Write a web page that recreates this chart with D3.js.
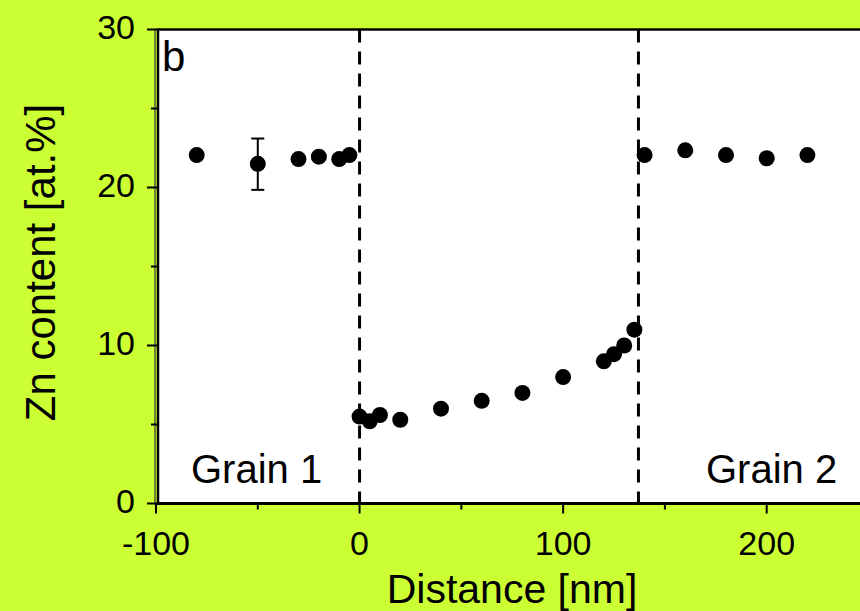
<!DOCTYPE html>
<html>
<head>
<meta charset="utf-8">
<script src="https://cdn.jsdelivr.net/npm/d3@7"></script>
<style>
  html, body { margin: 0; padding: 0; background: #ccff33; }
  svg { display: block; }
  text { font-family: "Liberation Sans", Arial, sans-serif; fill: #000; }
</style>
</head>
<body>
<svg id="chart" width="860" height="611"></svg>
<script>
// ---- data ----
const distance = [-80, -50, -30, -20, -10, -5, 0, 5, 10, 20, 40, 60, 80, 100, 120, 125, 130, 135, 140, 160, 180, 200, 220];
const znContent = [22.05, 21.5, 21.8, 21.95, 21.8, 22.05, 5.5, 5.2, 5.6, 5.3, 6.0, 6.5, 7.0, 8.0, 9.0, 9.45, 10.0, 11.0, 22.05, 22.35, 22.05, 21.85, 22.05];
const errorBars = [{ x: -50, y: 21.5, low: 19.85, high: 23.1 }];
const boundaries = [0, 137];
const xTicks = [-100, 0, 100, 200];
const xMinorTicks = [-50, 50, 150, 250];
const yTicks = [0, 10, 20, 30];
const yMinorTicks = [5, 15, 25];
const xTitle = "Distance [nm]";
const yTitle = "Zn content [at.%]";
const grainLabels = ["Grain 1", "Grain 2"];
const panelLabel = "b";

// ---- layout ----
const svg = d3.select("#chart");
const x = d3.scaleLinear().domain([-100, 200]).range([156, 766.7]);
const y = d3.scaleLinear().domain([0, 30]).range([503.5, 29.5]);
const pLeft = 158, pTop = 29.5, pBottom = 503.5, pRight = x(250);

// plot area
svg.append("rect").attr("x", pLeft).attr("y", pTop).attr("width", pRight - pLeft).attr("height", pBottom - pTop).attr("fill", "#fff");

// dashed grain boundaries
svg.selectAll("line.bound").data(boundaries).enter().append("line")
  .attr("class", "bound")
  .attr("x1", d => x(d)).attr("x2", d => x(d))
  .attr("y1", pTop).attr("y2", pBottom)
  .attr("stroke", "#000").attr("stroke-width", 3).attr("stroke-dasharray", "13,9");

// top border
svg.append("line").attr("x1", pLeft).attr("x2", pRight).attr("y1", pTop).attr("y2", pTop)
  .attr("stroke", "#000").attr("stroke-width", 2.5);

// y axis
const yAxis = svg.append("g");
yAxis.append("line").attr("x1", 155).attr("x2", 155).attr("y1", pTop - 1).attr("y2", pBottom + 1)
  .attr("stroke", "#333").attr("stroke-width", 1.2);
yAxis.append("line").attr("x1", pLeft).attr("x2", pLeft).attr("y1", pTop - 1).attr("y2", pBottom + 1.5)
  .attr("stroke", "#000").attr("stroke-width", 2.5);
yAxis.selectAll("line.ymaj").data(yTicks).enter().append("line")
  .attr("class", "ymaj")
  .attr("x1", 147).attr("x2", pLeft).attr("y1", d => y(d)).attr("y2", d => y(d))
  .attr("stroke", "#000").attr("stroke-width", 2);
yAxis.selectAll("line.ymin").data(yMinorTicks).enter().append("line")
  .attr("class", "ymin")
  .attr("x1", 151).attr("x2", pLeft).attr("y1", d => y(d)).attr("y2", d => y(d))
  .attr("stroke", "#000").attr("stroke-width", 2);
yAxis.selectAll("text").data(yTicks).enter().append("text")
  .attr("x", 135).attr("y", d => y(d) + 9)
  .attr("text-anchor", "end").attr("font-size", 34)
  .text(d => d);

// x axis
const xAxis = svg.append("g");
xAxis.append("line").attr("x1", pLeft - 1).attr("x2", 860).attr("y1", pBottom).attr("y2", pBottom)
  .attr("stroke", "#000").attr("stroke-width", 3);
xAxis.selectAll("line.xmaj").data(xTicks).enter().append("line")
  .attr("class", "xmaj")
  .attr("x1", d => x(d)).attr("x2", d => x(d)).attr("y1", pBottom).attr("y2", pBottom + 10)
  .attr("stroke", "#000").attr("stroke-width", 2);
xAxis.selectAll("line.xmin").data(xMinorTicks).enter().append("line")
  .attr("class", "xmin")
  .attr("x1", d => x(d)).attr("x2", d => x(d)).attr("y1", pBottom).attr("y2", pBottom + 6)
  .attr("stroke", "#000").attr("stroke-width", 2);
xAxis.selectAll("text").data(xTicks).enter().append("text")
  .attr("x", d => x(d)).attr("y", 555)
  .attr("text-anchor", "middle").attr("font-size", 34)
  .text(d => d);

// titles
svg.append("text").attr("x", 512).attr("y", 603).attr("text-anchor", "middle")
  .attr("font-size", 41).text(xTitle);
svg.append("text").attr("transform", "translate(55,262.5) rotate(-90)").attr("text-anchor", "middle")
  .attr("font-size", 42).text(yTitle);

// annotations
svg.append("text").attr("x", 162).attr("y", 71).attr("font-size", 42).text(panelLabel);
svg.append("text").attr("x", 191).attr("y", 483).attr("font-size", 40).text(grainLabels[0]);
svg.append("text").attr("x", 706).attr("y", 483).attr("font-size", 40).text(grainLabels[1]);

// error bars
const eb = svg.append("g");
errorBars.forEach(e => {
  eb.append("line").attr("x1", x(e.x)).attr("x2", x(e.x)).attr("y1", y(e.low)).attr("y2", y(e.high))
    .attr("stroke", "#000").attr("stroke-width", 2);
  [e.low, e.high].forEach(v => {
    eb.append("line").attr("x1", x(e.x) - 6.5).attr("x2", x(e.x) + 6.5).attr("y1", y(v)).attr("y2", y(v))
      .attr("stroke", "#000").attr("stroke-width", 2);
  });
});

// points
svg.append("g").selectAll("circle").data(distance).enter().append("circle")
  .attr("cx", d => x(d)).attr("cy", (d, i) => y(znContent[i]))
  .attr("r", 8).attr("fill", "#000");
</script>
</body>
</html>
